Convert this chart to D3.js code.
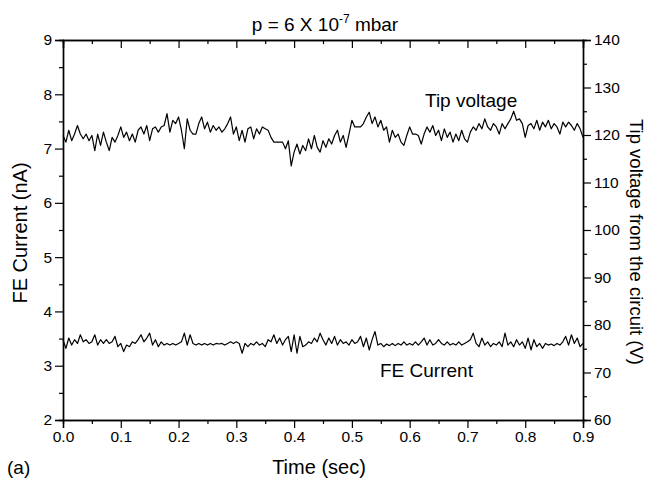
<!DOCTYPE html>
<html><head><meta charset="utf-8">
<script src="https://cdn.jsdelivr.net/npm/d3@7"></script>
<style>body{margin:0;background:#fff;} svg{display:block;font-family:"Liberation Sans",Arial,sans-serif;}</style>
</head><body><svg id="c" width="649" height="482"></svg>
<script>
// ---- data ----
const timeStart = 0, timeEnd = 0.9;
const xTicks = [0.0,0.1,0.2,0.3,0.4,0.5,0.6,0.7,0.8,0.9];
const leftTicks = [2,3,4,5,6,7,8,9];
const rightTicks = [60,70,80,90,100,110,120,130,140];
// Tip voltage (V), sampled every 0.005 s from 0 to 0.9 s
const tipVoltage = [
119.9,118.5,121.0,118.8,120.2,122.0,120.2,119.2,120.2,118.8,
119.9,116.7,120.2,117.8,120.6,118.5,116.7,119.5,118.5,119.9,
121.7,119.5,120.6,118.8,120.2,118.5,121.0,121.7,120.2,122.0,
118.8,121.3,121.7,120.6,121.7,122.0,124.5,120.6,123.1,122.4,
123.8,121.0,117.1,123.4,121.0,120.2,120.2,122.4,123.8,121.3,
122.7,120.6,122.0,121.0,121.7,120.6,121.3,122.4,123.8,120.2,
121.7,118.8,121.0,118.5,121.3,121.7,119.2,121.3,120.2,121.7,
121.3,121.0,119.5,118.5,118.5,118.5,118.5,117.1,118.8,113.5,
116.4,118.1,116.0,117.8,116.7,119.2,117.1,119.9,117.4,116.4,
118.8,117.4,119.2,118.1,119.9,121.0,118.5,119.9,117.4,120.2,
123.1,121.7,121.7,121.7,122.4,123.8,124.8,122.4,123.8,121.7,
123.1,121.0,121.7,118.5,121.0,119.5,120.2,118.5,117.8,119.9,
121.7,120.2,120.2,119.9,118.1,120.2,121.7,120.6,122.0,119.9,
121.0,118.8,121.3,119.5,120.6,118.5,120.2,118.8,121.0,119.2,
118.5,120.6,121.7,121.0,122.4,121.3,123.4,121.7,121.0,122.4,
121.7,120.2,122.4,121.3,122.4,123.4,125.0,123.1,123.4,122.4,
119.5,122.0,122.4,121.3,123.1,121.0,122.7,121.7,123.1,121.3,
122.4,121.7,120.2,122.7,121.7,122.7,122.0,121.0,122.4,121.3,
119.5];
// FE current (nA), sampled every 0.005 s from 0 to 0.9 s
const feCurrent = [
3.48,3.32,3.51,3.38,3.48,3.41,3.57,3.44,3.48,3.41,
3.44,3.57,3.38,3.48,3.41,3.48,3.41,3.44,3.54,3.35,
3.41,3.26,3.38,3.35,3.44,3.41,3.48,3.57,3.44,3.51,
3.60,3.38,3.48,3.35,3.44,3.38,3.41,3.38,3.41,3.38,
3.41,3.44,3.60,3.38,3.57,3.41,3.38,3.41,3.38,3.41,
3.38,3.41,3.38,3.41,3.40,3.41,3.38,3.41,3.44,3.41,
3.44,3.41,3.23,3.41,3.35,3.41,3.38,3.44,3.38,3.41,
3.35,3.48,3.44,3.57,3.41,3.51,3.38,3.48,3.54,3.26,
3.57,3.23,3.54,3.35,3.38,3.44,3.41,3.51,3.44,3.60,
3.48,3.38,3.51,3.41,3.54,3.38,3.48,3.41,3.44,3.38,
3.48,3.41,3.44,3.54,3.35,3.51,3.29,3.48,3.63,3.38,
3.41,3.35,3.40,3.37,3.41,3.37,3.41,3.38,3.44,3.38,
3.41,3.38,3.44,3.38,3.44,3.51,3.38,3.48,3.38,3.41,
3.48,3.41,3.38,3.44,3.38,3.41,3.38,3.44,3.38,3.41,
3.44,3.48,3.60,3.41,3.35,3.51,3.38,3.44,3.35,3.41,
3.38,3.44,3.35,3.60,3.38,3.44,3.35,3.48,3.38,3.44,
3.32,3.51,3.29,3.48,3.35,3.41,3.32,3.41,3.38,3.40,
3.37,3.41,3.38,3.44,3.54,3.38,3.57,3.41,3.51,3.35,
3.41];
const titleMain = "p = 6 X 10", titleSup = "-7", titleEnd = " mbar";

// ---- layout ----
const svg = d3.select("#c");
const L = 63, R = 583, T = 40, B = 420;
const x = d3.scaleLinear().domain([timeStart, timeEnd]).range([L, R]);
const yL = d3.scaleLinear().domain([2, 9]).range([B, T]);
const yR = d3.scaleLinear().domain([60, 140]).range([B, T]);
const stepT = (timeEnd - timeStart) / (tipVoltage.length - 1);
const fmt1 = d3.format(".1f");

function styleAxis(g, fs) {
  g.selectAll(".domain").attr("stroke", "#000").attr("stroke-width", 1.4);
  g.selectAll(".tick line").attr("stroke", "#000").attr("stroke-width", 1.2);
  g.selectAll(".tick text").attr("fill", "#000").style("font-size", fs + "px");
}
const minorX = d3.range(0.05, 0.9, 0.1);
const minorL = d3.range(2.5, 9, 1);
const minorR = d3.range(65, 140, 10);

// minor ticks
svg.append("g").attr("transform", `translate(0,${B})`)
  .call(d3.axisBottom(x).tickValues(minorX).tickSize(4).tickFormat(""))
  .call(g => styleAxis(g, 15));
svg.append("g").attr("transform", `translate(0,${T})`)
  .call(d3.axisBottom(x).tickValues(minorX).tickSize(4).tickFormat(""))
  .call(g => styleAxis(g, 15));
svg.append("g").attr("transform", `translate(${L},0)`)
  .call(d3.axisLeft(yL).tickValues(minorL).tickSize(4).tickFormat(""))
  .call(g => styleAxis(g, 15));
svg.append("g").attr("transform", `translate(${R},0)`)
  .call(d3.axisRight(yR).tickValues(minorR).tickSize(4).tickFormat(""))
  .call(g => styleAxis(g, 15));

// major axes
svg.append("g").attr("transform", `translate(0,${B})`)
  .call(d3.axisBottom(x).tickValues(xTicks).tickSize(8).tickPadding(3).tickFormat(fmt1))
  .call(g => styleAxis(g, 15.5));
svg.append("g").attr("transform", `translate(0,${T})`)
  .call(d3.axisBottom(x).tickValues(xTicks).tickSize(8).tickFormat(""))
  .call(g => styleAxis(g, 15));
svg.append("g").attr("transform", `translate(${L},0)`)
  .call(d3.axisLeft(yL).tickValues(leftTicks).tickSize(8).tickPadding(3).tickFormat(d3.format("d")))
  .call(g => styleAxis(g, 15.5));
svg.append("g").attr("transform", `translate(${R},0)`)
  .call(d3.axisRight(yR).tickValues(rightTicks).tickSize(8).tickPadding(3).tickFormat(d3.format("d")))
  .call(g => styleAxis(g, 15.5));

// lines
const lineV = d3.line().x((d, i) => x(timeStart + i * stepT)).y(d => yR(d));
const lineI = d3.line().x((d, i) => x(timeStart + i * stepT)).y(d => yL(d));
svg.append("path").datum(tipVoltage).attr("d", lineV)
  .attr("fill", "none").attr("stroke", "#000").attr("stroke-width", 1.2).attr("stroke-linejoin", "round");
svg.append("path").datum(feCurrent).attr("d", lineI)
  .attr("fill", "none").attr("stroke", "#000").attr("stroke-width", 1.2).attr("stroke-linejoin", "round");

// texts
const title = svg.append("text").attr("x", 325).attr("y", 31).attr("text-anchor", "middle")
  .style("font-size", "19px").attr("fill", "#000");
title.append("tspan").text(titleMain);
title.append("tspan").attr("dy", -8).style("font-size", "12px").text(titleSup);
title.append("tspan").attr("dy", 8).text(titleEnd);

svg.append("text").attr("x", (L + R) / 2 - 4).attr("y", 474).attr("text-anchor", "middle")
  .style("font-size", "20px").attr("fill", "#000").text("Time (sec)");
svg.append("text").attr("x", 7).attr("y", 474).style("font-size", "19px").attr("fill", "#000").text("(a)");
svg.append("text").attr("transform", `translate(27,${(T + B) / 2 + 3}) rotate(-90)`).attr("text-anchor", "middle")
  .style("font-size", "20px").attr("fill", "#000").text("FE Current (nA)");
svg.append("text").attr("transform", `translate(630,${(T + B) / 2 + 12}) rotate(90)`).attr("text-anchor", "middle")
  .style("font-size", "18.5px").attr("fill", "#000").text("Tip voltage from the circuit (V)");
svg.append("text").attr("x", 425).attr("y", 107).style("font-size", "19px").attr("fill", "#000").text("Tip voltage");
svg.append("text").attr("x", 380).attr("y", 377).style("font-size", "19px").attr("fill", "#000").text("FE Current");
</script></body></html>
